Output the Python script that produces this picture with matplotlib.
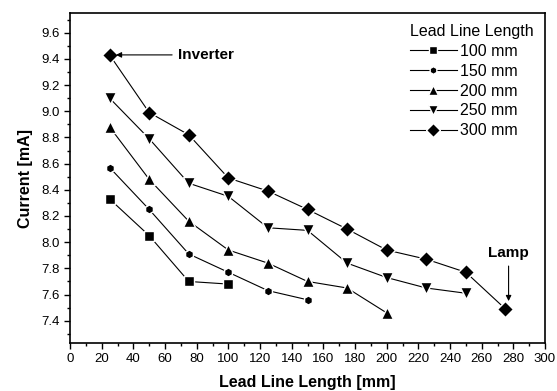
import matplotlib.pyplot as plt
from matplotlib.ticker import MultipleLocator

plt.rcParams["font.family"] = ["Liberation Sans", "DejaVu Sans"]

labels = ["100 mm", "150 mm", "200 mm", "250 mm", "300 mm"]
markers = ["s", "h", "^", "v", "D"]
sizes = [6.5, 6.5, 9, 9, 8]

x_100 = [25, 50, 75, 100]
y_100 = [8.33, 8.05, 7.70, 7.68]
x_150 = [25, 50, 75, 100, 125, 150]
y_150 = [8.57, 8.25, 7.91, 7.77, 7.63, 7.56]
x_200 = [25, 50, 75, 100, 125, 150, 175, 200]
y_200 = [8.88, 8.48, 8.16, 7.94, 7.84, 7.70, 7.65, 7.46]
x_250 = [25, 50, 75, 100, 125, 150, 175, 200, 225, 250]
y_250 = [9.10, 8.79, 8.45, 8.35, 8.11, 8.09, 7.84, 7.73, 7.65, 7.61]
x_300 = [25, 50, 75, 100, 125, 150, 175, 200, 225, 250, 275]
y_300 = [9.43, 8.99, 8.82, 8.49, 8.39, 8.25, 8.10, 7.94, 7.87, 7.77, 7.49]

xs = [x_100, x_150, x_200, x_250, x_300]
ys = [y_100, y_150, y_200, y_250, y_300]

fig = plt.figure(figsize=(5.57, 3.91), dpi=100)
ax = fig.add_axes([70 / 557, 1 - 343 / 391, 475 / 557, 330 / 391])

for x, y, lab, m, s in zip(xs, ys, labels, markers, sizes):
    ax.plot(x, y, color="black", lw=0.8, marker=m, markersize=s,
            markerfacecolor="black", markeredgecolor="white", markeredgewidth=1.0,
            label=lab)

ax.set_xlim(0, 300)
ax.set_ylim(7.23, 9.75)
ax.xaxis.set_major_locator(MultipleLocator(20))
ax.xaxis.set_minor_locator(MultipleLocator(10))
ax.yaxis.set_major_locator(MultipleLocator(0.2))
ax.yaxis.set_minor_locator(MultipleLocator(0.1))
ax.tick_params(which="major", length=4, width=1, labelsize=9.5)
ax.tick_params(which="minor", length=2, width=1)
ax.yaxis.set_major_formatter(plt.FuncFormatter(lambda v, p: f"{v:.1f}"))
for sp in ax.spines.values():
    sp.set_linewidth(1.2)

ax.set_xlabel("Lead Line Length [mm]", fontsize=11.5, fontweight="bold", labelpad=7)
ax.set_ylabel("Current [mA]", fontsize=11.5, fontweight="bold", labelpad=6)

ax.annotate("Inverter", xy=(29, 9.43), xytext=(68, 9.43), fontsize=11,
            fontweight="bold", va="center",
            arrowprops=dict(arrowstyle="-|>", color="black", lw=0.8,
                            mutation_scale=8, shrinkB=0))
ax.annotate("Lamp", xy=(277, 7.55), xytext=(277, 7.86), fontsize=11,
            fontweight="bold", ha="center", va="bottom",
            arrowprops=dict(arrowstyle="-|>", color="black", lw=0.8,
                            mutation_scale=8, shrinkB=0))

leg = ax.legend(title="Lead Line Length", loc="upper right", frameon=False,
                fontsize=11.5, title_fontsize=11.5, handlelength=2.9,
                labelspacing=0.3, handletextpad=0.2, borderaxespad=0.3,
                markerscale=0.85)
leg._legend_box.align = "left"

fig.savefig("out.png", dpi=100)
